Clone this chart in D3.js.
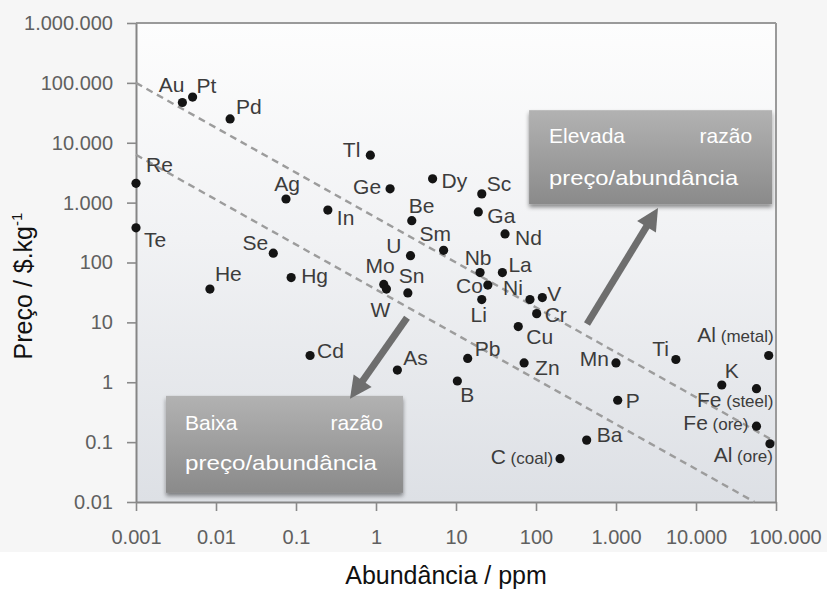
<!DOCTYPE html>
<html>
<head>
<meta charset="utf-8">
<script src="https://cdn.jsdelivr.net/npm/d3@7"></script>
<style>
  html, body { margin: 0; padding: 0; background: #ffffff; }
  svg { display: block; font-family: "Liberation Sans", Arial, sans-serif; }
</style>
</head>
<body>
<svg id="chart" width="830" height="589"></svg>
<script>
// Element symbols, optional qualifier, crustal abundance (ppm) and price ($/kg)
const elements = ["Au","Pt","Pd","Re","Te","Ag","In","Tl","Ge","Dy","Sc","Be","Ga","Sm","Nd",
  "U","Mo","W","Sn","Nb","Co","Li","La","Ni","V","Cr","Cu","Se","Hg","He","Cd","As","Pb","Zn","B",
  "Mn","Ti","Al","K","Fe","Fe","Al","P","Ba","C"];
const qualifiers = ["","","","","","","","","","","","","","","",
  "","","","","","","","","","","","","","","","","","","","",
  "","","(metal)","","(steel)","(ore)","(ore)","","","(coal)"];
const abundance = [0.0038,0.0051,0.015,0.001,0.001,0.075,0.25,0.85,1.5,5.1,21,2.8,19,7,41,
  2.7,1.25,1.35,2.5,20,25,21,38,84,120,102,60,0.052,0.087,0.0084,0.15,1.85,14,71,10.4,
  1000,5600,81000,21000,57000,57000,84000,1050,430,200];
const price = [47000,58000,25000,2100,380,1150,750,6200,1700,2500,1400,500,700,160,300,
  130,43,36,31,68,42,24,68,24,26,14,8.5,143,56,36,2.8,1.6,2.5,2.1,1.05,
  2.1,2.4,2.8,0.9,0.78,0.185,0.094,0.5,0.108,0.053];

// Axis ticks
const xTicks = [0.001,0.01,0.1,1,10,100,1000,10000,100000];
const xTickLabels = ["0.001","0.01","0.1","1","10","100","1.000","10.000","100.000"];
const yTicks = [0.01,0.1,1,10,100,1000,10000,100000,1000000];
const yTickLabels = ["0.01","0.1","1","10","100","1.000","10.000","100.000","1.000.000"];

// Constant price/abundance reference lines (endpoints in data units)
const ratioLineHigh = [[0.001, 100000], [100000, 0.1]];
const ratioLineLow = [[0.001, 6300], [54000, 0.01]];

// Label placement for each point: [dx, dy, anchor] in pixels from the dot
const labelPlacement = [
  [2,-11,"end"],[4,-4,"start"],[6,-5,"start"],[10,-11,"start"],[8,19,"start"],[1,-8,"middle"],
  [9,15,"start"],[-10,2,"end"],[-9,5,"end"],[9,9,"start"],[5,-3,"start"],[-3,-8,"start"],
  [9,11,"start"],[-24,-9,"start"],[10,11,"start"],[-9,-3,"end"],[11,-11,"end"],[-6,28,"middle"],
  [-9,-10,"start"],[-2,-8,"middle"],[-5,8,"end"],[-3,22,"middle"],[6,-1,"start"],[-7,-5,"end"],
  [5,3,"start"],[8,8,"start"],[8,17,"start"],[-5,-3,"end"],[10,5,"start"],[5,-8,"start"],
  [7,3,"start"],[6,-5,"start"],[7,-2,"start"],[11,12,"start"],[3,21,"start"],
  [-7,3,"end"],[-7,-3,"end"],[5,-13,"end"],[3,-7,"start"],[17,18,"end"],[-8,4,"end"],
  [3,18,"end"],[8,8,"start"],[10,2,"start"],[-7,5,"end"]
];

// Annotation boxes (top-left anchored in data units) and arrows (data units)
const annotations = [
  { at: [82, 35000], w: 243, h: 94, word1: "Elevada", word2: "razão", line2: "preço/abundância",
    pad: 20, right: 223, base1: 33, base2: 75, len2: 189 },
  { at: [0.00237, 0.593], w: 237, h: 97, word1: "Baixa", word2: "razão", line2: "preço/abundância",
    pad: 19, right: 217, base1: 34, base2: 74, len2: 192 }
];
const arrows = [
  [[434, 9.4], [3350, 817]],
  [[2.44, 11.9], [0.473, 0.53]]
];

const svg = d3.select("#chart");
const W = 830, H = 589;
const plot = { left: 136, right: 776, top: 23, bottom: 502 };

const x = d3.scaleLog().domain([0.001, 100000]).range([plot.left, plot.right]);
const y = d3.scaleLog().domain([0.01, 1000000]).range([plot.bottom, plot.top]);

const defs = svg.append("defs");
const bg = defs.append("linearGradient").attr("id", "plotBg")
  .attr("x1", 0).attr("y1", 0).attr("x2", 0).attr("y2", 1);
bg.append("stop").attr("offset", "0%").attr("stop-color", "#fdfdfd");
bg.append("stop").attr("offset", "45%").attr("stop-color", "#f1f2f4");
bg.append("stop").attr("offset", "100%").attr("stop-color", "#dde0e5");

const boxGrad = defs.append("linearGradient").attr("id", "boxBg")
  .attr("x1", 0).attr("y1", 0).attr("x2", 0).attr("y2", 1);
boxGrad.append("stop").attr("offset", "0%").attr("stop-color", "#b2b2b2");
boxGrad.append("stop").attr("offset", "100%").attr("stop-color", "#8a8a8a");

const shadow = defs.append("filter").attr("id", "boxShadow")
  .attr("x", "-10%").attr("y", "-10%").attr("width", "120%").attr("height", "130%");
shadow.append("feDropShadow").attr("dx", 0).attr("dy", 3).attr("stdDeviation", 2)
  .attr("flood-color", "#000").attr("flood-opacity", 0.45);

// page background
svg.append("rect").attr("width", W).attr("height", H).attr("fill", "#ffffff");
svg.append("rect").attr("x", 0).attr("y", 0).attr("width", 827).attr("height", 552).attr("fill", "#f6f6f6");

// plot area
svg.append("rect")
  .attr("x", plot.left).attr("y", plot.top)
  .attr("width", plot.right - plot.left).attr("height", plot.bottom - plot.top)
  .attr("fill", "url(#plotBg)");

// frame top and right
svg.append("line").attr("x1", plot.left).attr("x2", plot.right)
  .attr("y1", plot.top).attr("y2", plot.top).attr("stroke", "#9a9a9a").attr("stroke-width", 2);
svg.append("line").attr("x1", plot.right).attr("x2", plot.right)
  .attr("y1", plot.top).attr("y2", plot.bottom).attr("stroke", "#9a9a9a").attr("stroke-width", 2);

// axes
const yAxis = d3.axisLeft(y).tickValues(yTicks)
  .tickFormat((d, i) => yTickLabels[i]).tickSize(9).tickSizeOuter(0).tickPadding(14);
const gy = svg.append("g").attr("transform", `translate(${plot.left},0)`).call(yAxis);

const xAxis = d3.axisBottom(x).tickValues(xTicks)
  .tickFormat((d, i) => xTickLabels[i]).tickSize(9).tickSizeOuter(0).tickPadding(19);
const gx = svg.append("g").attr("transform", `translate(0,${plot.bottom})`).call(xAxis);

[gx, gy].forEach(g => {
  g.select(".domain").attr("stroke", "#858585").attr("stroke-width", 2);
  g.selectAll(".tick line").attr("stroke", "#8a8a8a").attr("stroke-width", 1.6);
  g.selectAll(".tick text").attr("fill", "#606060")
    .style("font-size", "20px").style("font-family", "\"Liberation Sans\", Arial, sans-serif");
});
// keep the last abundance label inside the page
gx.selectAll(".tick text").filter((d, i) => i === xTicks.length - 1).attr("dx", 9);

// axis titles
svg.append("text")
  .attr("transform", `translate(32,286) rotate(-90)`)
  .attr("text-anchor", "middle").attr("fill", "#111").style("font-size", "25px")
  .call(t => {
    t.append("tspan").text("Preço / $.kg");
    t.append("tspan").text("-1").attr("dy", -10).style("font-size", "15px");
  });
svg.append("text")
  .attr("x", 446).attr("y", 584)
  .attr("text-anchor", "middle").attr("fill", "#111").style("font-size", "25px")
  .text("Abundância / ppm");

// dashed constant-ratio lines
const lineGen = d3.line().x(d => x(d[0])).y(d => y(d[1]));
[ratioLineHigh, ratioLineLow].forEach(seg => {
  svg.append("path").attr("d", lineGen(seg))
    .attr("fill", "none").attr("stroke", "#9c9c9c").attr("stroke-width", 2.4)
    .attr("stroke-dasharray", "7,5");
});

// points
const pts = elements.map((e, i) => ({
  name: e, qual: qualifiers[i], a: abundance[i], p: price[i], place: labelPlacement[i]
}));

svg.append("g").selectAll("circle").data(pts).join("circle")
  .attr("cx", d => x(d.a)).attr("cy", d => y(d.p)).attr("r", 4.6)
  .attr("fill", "#141414");

const labels = svg.append("g").selectAll("text").data(pts).join("text")
  .attr("x", d => x(d.a) + d.place[0])
  .attr("y", d => y(d.p) + d.place[1])
  .attr("text-anchor", d => d.place[2])
  .attr("fill", "#3c3c3c")
  .style("font-size", "21px");
labels.append("tspan").text(d => d.name);
labels.filter(d => d.qual).append("tspan")
  .text(d => " " + d.qual).style("font-size", "17px");

// annotation boxes
annotations.forEach(a => {
  const bx = x(a.at[0]), by = y(a.at[1]);
  const g = svg.append("g").attr("transform", `translate(${bx},${by})`);
  g.append("rect").attr("width", a.w).attr("height", a.h)
    .attr("fill", "url(#boxBg)").attr("filter", "url(#boxShadow)");
  g.append("text").attr("x", a.pad).attr("y", a.base1).attr("fill", "#ffffff")
    .style("font-size", "21px").text(a.word1);
  g.append("text").attr("x", a.right).attr("y", a.base1).attr("fill", "#ffffff")
    .attr("text-anchor", "end").style("font-size", "21px").text(a.word2);
  g.append("text").attr("x", a.pad).attr("y", a.base2).attr("fill", "#ffffff")
    .attr("textLength", a.len2).attr("lengthAdjust", "spacingAndGlyphs")
    .style("font-size", "21px").text(a.line2);
});

// arrows
arrows.forEach(([from, to]) => {
  const x0 = x(from[0]), y0 = y(from[1]);
  const x1 = x(to[0]), y1 = y(to[1]);
  const dx = x1 - x0, dy = y1 - y0, L = Math.hypot(dx, dy);
  const ux = dx / L, uy = dy / L, px = -uy, py = ux;
  const headLen = 22, headHalf = 11;
  const bxp = x1 - ux * headLen, byp = y1 - uy * headLen;
  svg.append("line").attr("x1", x0).attr("y1", y0).attr("x2", bxp + ux * 2).attr("y2", byp + uy * 2)
    .attr("stroke", "#6e6e6e").attr("stroke-width", 7);
  svg.append("path")
    .attr("d", `M${x1},${y1}L${bxp + px * headHalf},${byp + py * headHalf}L${bxp - px * headHalf},${byp - py * headHalf}Z`)
    .attr("fill", "#6e6e6e");
});
</script>
</body>
</html>
